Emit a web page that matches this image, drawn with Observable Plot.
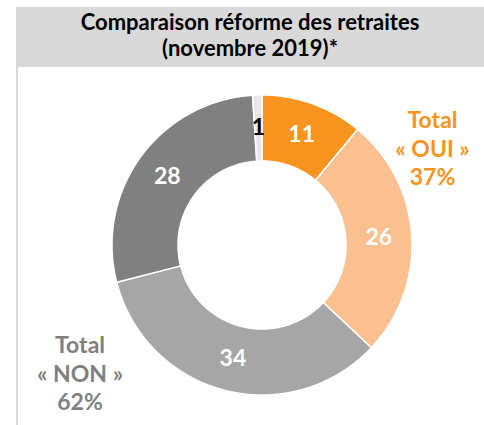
<!DOCTYPE html>
<html>
<head>
<meta charset="utf-8">
<script src="https://cdn.jsdelivr.net/npm/d3@7"></script>
<script src="https://cdn.jsdelivr.net/npm/@observablehq/plot@0.6"></script>
<style>
  html, body { margin: 0; padding: 0; background: #fff; }
  #wrap { position: relative; width: 484px; height: 425px; overflow: hidden; font-family: Lato, "Open Sans", sans-serif; }
  #header { position: absolute; left: 16px; top: 7px; width: 468px; height: 60px; background: #D9D9D9;
            text-align: center; font-weight: bold; font-size: 22px; line-height: 26px; color: #000;
            box-sizing: border-box; padding-top: 2px; }
  #border { position: absolute; left: 16px; top: 67px; width: 2px; height: 358px; background: #D9D9D9; }
  #chart { position: absolute; left: 0; top: 0; }
</style>
</head>
<body>
<div id="wrap">
  <div id="chart"></div>
  <div id="header">Comparaison réforme des retraites<br>(novembre 2019)*</div>
  <div id="border"></div>
</div>
<script>
const categories = ["OUI (a)", "OUI (b)", "NON (a)", "NON (b)", "Sans réponse"];
const values = [11, 26, 34, 28, 1];
const colors = ["#F7941D", "#FAC090", "#A6A6A6", "#808080", "#E7E6E6"];
const labelColors = ["#ffffff", "#ffffff", "#ffffff", "#ffffff", "#000000"];
const totalLabels = ["Total\n« OUI »\n37%", "Total\n« NON »\n62%"];
const totalColors = ["#F7941D", "#808080"];

const innerR = 0.56;
const total = d3.sum(values);
let acc = 0;
const slices = values.map((v, i) => {
  const a0 = acc / total * 2 * Math.PI;
  acc += v;
  const a1 = acc / total * 2 * Math.PI;
  return {category: categories[i], value: v, a0, a1, i};
});

const pts = [];
for (const s of slices) {
  const n = Math.max(2, Math.ceil((s.a1 - s.a0) / (Math.PI / 180)));
  const ring = [];
  for (let k = 0; k <= n; k++) {
    const a = s.a0 + (s.a1 - s.a0) * k / n;
    ring.push({category: s.category, x: Math.sin(a), y: Math.cos(a)});
  }
  for (let k = n; k >= 0; k--) {
    const a = s.a0 + (s.a1 - s.a0) * k / n;
    ring.push({category: s.category, x: innerR * Math.sin(a), y: innerR * Math.cos(a)});
  }
  ring.push(ring[0]);
  pts.push(...ring);
}

const midR = (1 + innerR) / 2;
const labels = slices.map(s => {
  const a = (s.a0 + s.a1) / 2;
  return {text: String(s.value), x: midR * Math.sin(a), y: midR * Math.cos(a), color: labelColors[s.i]};
});

const totals = [
  {text: totalLabels[0], x: 1.137, y: 0.65, color: totalColors[0]},
  {text: totalLabels[1], x: -1.213, y: -0.85, color: totalColors[1]}
];

const chart = Plot.plot({
  width: 484,
  height: 425,
  marginLeft: 111.5,
  marginRight: 72.5,
  marginTop: 94.5,
  marginBottom: 30.5,
  style: {fontFamily: "Lato, 'Open Sans', sans-serif", background: "transparent"},
  x: {domain: [-1, 1], axis: null},
  y: {domain: [-1, 1], axis: null},
  color: {domain: categories, range: colors},
  marks: [
    Plot.line(pts, {x: "x", y: "y", z: "category", fill: "category", stroke: "#fff", strokeWidth: 1.5, curve: "linear"}),
    Plot.text(labels, {x: "x", y: "y", text: "text", fill: d => d.color, fontSize: 23, fontWeight: "bold"}),
    Plot.text(totals, {x: "x", y: "y", text: "text", fill: d => d.color, fontSize: 23, fontWeight: "bold", lineHeight: 1.24})
  ]
});
document.getElementById("chart").appendChild(chart);
</script>
</body>
</html>
